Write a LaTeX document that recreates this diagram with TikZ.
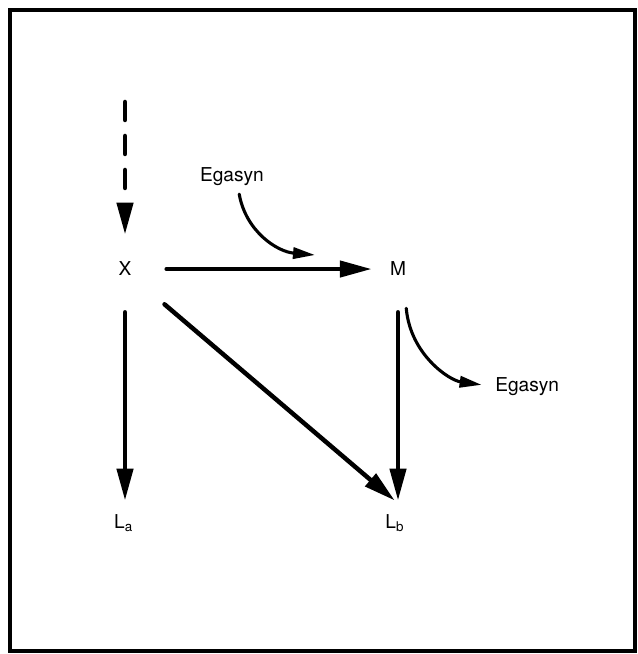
\documentclass[tikz,border=0pt]{standalone}
\usepackage{fontspec}
\setmainfont{TeX Gyre Heros}
\usetikzlibrary{arrows.meta}

\begin{document}
\begin{tikzpicture}[>=Triangle,
    lbl/.style={inner sep=0pt, anchor=base, font=\fontsize{13.6}{16}\selectfont},
    mainarrow/.style={line width=3.2pt, line cap=round, -{Triangle[length=0.8cm, width=0.4cm]}},
    sidearrow/.style={line width=2.2pt, line cap=round, -{Triangle[length=0.55cm, width=0.28cm]}}]
    \useasboundingbox (0,0) rectangle (15.925,-16.35);
    \draw[line width=0.12cm] (0.25,-0.25) rectangle (15.875,-16.275);
    % labels
    \node[lbl] (X) at (3.125,-6.9) {X};
    \node[lbl] (M) at (9.95,-6.9) {M};
    \node[lbl] (La) at (3.09,-13.2) {L\textsubscript{a}};
    \node[lbl] (Lb) at (9.87,-13.2) {L\textsubscript{b}};
    \node[lbl] (E1) at (5.8,-4.54) {Egasyn};
    \node[lbl] (E2) at (13.18,-9.79) {Egasyn};
    \coordinate (top) at (3.125,-2.55);
    \coordinate (e1end) at (7.875,-6.375);
    % arrows
    \draw[mainarrow, dash pattern=on 0.45cm off 0.4cm, shorten >=0.68cm] (top) -- (X.north);
    \draw[mainarrow, shorten <=0.875cm, shorten >=0.45cm] (X.east) -- (M.west);
    \draw[mainarrow, shorten <=0.9cm, shorten >=0.33cm] (X.south) -- (X.south |- La.north);
    \draw[mainarrow, shorten <=1.08cm] (X.south east) -- ([yshift=0.33cm]Lb.north);
    \draw[mainarrow, shorten <=0.9cm, shorten >=0.33cm] (M.south) -- (M.south |- Lb.north);
    \draw[sidearrow] ([xshift=0.18cm, yshift=-0.2cm]E1.south) to[out=-80, in=175] (e1end);
    \draw[sidearrow, shorten >=0.34cm] ([yshift=-0.8cm]M.south east) to[out=-85, in=172] (E2.west);
\end{tikzpicture}
\end{document}
